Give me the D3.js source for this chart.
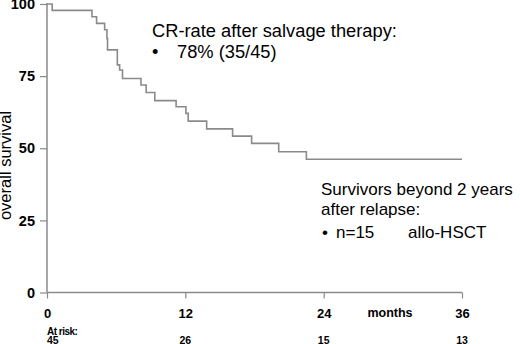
<!DOCTYPE html>
<html><head><meta charset="utf-8">
<script src="https://cdn.jsdelivr.net/npm/d3@7/dist/d3.min.js"></script>
<style>body{margin:0;background:#fff}svg{display:block}text{font-family:"Liberation Sans",Arial,sans-serif}</style>
</head><body>
<script>
const stepTimes = [0, 0.45, 3.9, 4.3, 5.0, 5.2, 5.25, 6.1, 6.3, 6.55, 8.15, 8.6, 9.35, 11.2, 12.05, 12.25, 13.85, 16.1, 17.75, 20.1, 22.5];
const survival  = [100, 97.8, 95.6, 93.3, 91.1, 88.1, 84.1, 78.9, 77.1, 74.2, 71.9, 69.3, 66.5, 64.4, 62.1, 59.4, 56.7, 54.2, 51.7, 48.8, 46.2];
const endTime = 36;
const xTicks = [0, 12, 24, 36];
const yTicks = [0, 25, 50, 75, 100];
const atRiskTimes = [0, 12, 24, 36];
const atRisk = [45, 26, 15, 13];

const W = 520, H = 344;
const svg = d3.select("body").append("svg").attr("width", W).attr("height", H);
const x = d3.scaleLinear().domain([0, 36]).range([47, 462]);
const y = d3.scaleLinear().domain([0, 100]).range([292.5, 4]);
const gray = "#8a8a8a";

// Y axis
const yAxis = svg.append("g").attr("transform", `translate(${x(0)},0)`)
  .call(d3.axisLeft(y).tickValues(yTicks).tickSize(7).tickPadding(5));
yAxis.select(".domain").attr("stroke", gray).attr("stroke-width", 1.5).attr("d", `M0,${y(0)}V${y(100)-1}`);
yAxis.selectAll(".tick line").attr("stroke", gray).attr("stroke-width", 1.2);
yAxis.selectAll(".tick text").attr("font-size", 14.5).attr("font-weight", "bold").attr("fill", "#000")
  .attr("font-family", "Liberation Sans, Arial, sans-serif");

// X axis
const xAxis = svg.append("g").attr("transform", `translate(0,${y(0)})`)
  .call(d3.axisBottom(x).tickValues(xTicks).tickSize(6).tickPadding(10));
xAxis.select(".domain").attr("stroke", gray).attr("stroke-width", 1.5).attr("d", `M${x(0)},0H${x(36)}`);
xAxis.selectAll(".tick line").attr("stroke", gray).attr("stroke-width", 1.2);
xAxis.selectAll(".tick text").attr("font-size", 13).attr("font-weight", "bold").attr("fill", "#000")
  .attr("font-family", "Liberation Sans, Arial, sans-serif");

svg.append("text").attr("x", 390).attr("y", 317).attr("text-anchor", "middle")
  .attr("font-size", 12.5).attr("font-weight", "bold").text("months");

// Y title
svg.append("text").attr("transform", `translate(11,165.5) rotate(-90)`).attr("text-anchor", "middle")
  .attr("font-size", 16.5).text("overall survival");

// KM curve
const pts = stepTimes.map((t, i) => [t, survival[i]]);
pts.push([endTime, survival[survival.length - 1]]);
const line = d3.line().x(d => x(d[0])).y(d => y(d[1])).curve(d3.curveStepAfter);
svg.append("path").datum(pts).attr("d", line).attr("fill", "none")
  .attr("stroke", gray).attr("stroke-width", 1.6);

// At risk
svg.append("text").attr("x", 47).attr("y", 334.5).attr("font-size", 10).attr("font-weight", "bold")
  .attr("letter-spacing", -0.5).text("At risk:");
svg.selectAll(".risk").data(atRisk).enter().append("text")
  .attr("x", (d, i) => x(atRiskTimes[i]))
  .attr("text-anchor", (d, i) => i === 0 ? "start" : "middle")
  .attr("y", 344).attr("font-size", 10.5).attr("font-weight", "bold").text(d => d);

// Annotations
const fs1 = 18.3, fs2 = 17;
svg.append("text").attr("x", 152).attr("y", 37).attr("font-size", fs1).text("CR-rate after salvage therapy:");
svg.append("text").attr("x", 152).attr("y", 57.5).attr("font-size", fs1).text("•");
svg.append("text").attr("x", 177).attr("y", 57.5).attr("font-size", fs1).text("78% (35/45)");

svg.append("text").attr("x", 321).attr("y", 195).attr("font-size", fs2).text("Survivors beyond 2 years");
svg.append("text").attr("x", 321).attr("y", 215).attr("font-size", fs2).text("after relapse:");
svg.append("text").attr("x", 322).attr("y", 238).attr("font-size", fs2).text("•");
svg.append("text").attr("x", 336).attr("y", 238).attr("font-size", fs2).text("n=15");
svg.append("text").attr("x", 408).attr("y", 238).attr("font-size", fs2).text("allo-HSCT");
</script>
</body></html>
